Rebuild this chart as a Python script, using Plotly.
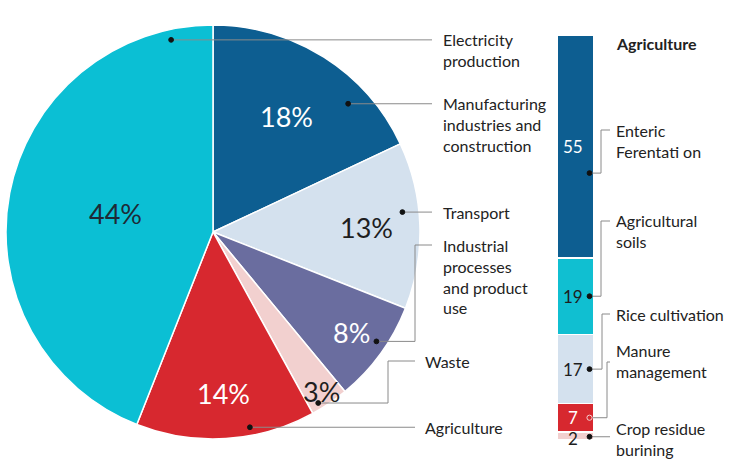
import math
import plotly.graph_objects as go

W, H = 731, 463

# ---------------- data ----------------
pie_labels = ["Manufacturing industries and construction", "Transport",
              "Industrial processes and product use", "Waste", "Agriculture",
              "Electricity production"]
pie_values = [18, 13, 8, 3, 14, 44]
pie_colors = ["#0d5e91", "#d4e1ee", "#6a6d9f", "#f2d0cf", "#d7282f", "#0bbfd4"]
pie_text_colors = ["#ffffff", "#1e1e1e", "#ffffff", "#1e1e1e", "#ffffff", "#1e2a36"]
pie_label_text = ["Manufacturing<br>industries and<br>construction", "Transport",
                  "Industrial<br>processes<br>and product<br>use", "Waste", "Agriculture",
                  "Electricity<br>production"]

agri_labels = ["Enteric Ferentati on", "Agricultural soils", "Rice cultivation",
               "Manure management", "Crop residue burining"]
agri_values = [55, 19, 17, 7, 2]
agri_colors = ["#0d5e91", "#10bfd1", "#d4e1ee", "#d7282f", "#f2d0cf"]
agri_text_colors = ["#ffffff", "#1e1e1e", "#1e1e1e", "#ffffff", "#1e1e1e"]
agri_label_text = ["Enteric<br>Ferentati on", "Agricultural<br>soils", "Rice cultivation",
                   "Manure<br>management", "Crop residue<br>burining"]

# ---------------- layout constants ----------------
CX, CY, R = 213, 232, 207           # pie centre / radius (px)
pct_rad = [0.66, 0.74, 0.83, 0.93, 0.78, 0.48]   # radial position of % labels
dot_polar = [(46.5, 0.90), (84, 0.92), (123.8, 0.95), (148.4, 0.97), (169.3, 0.96), (-12.3, 0.95)]
# (bend x, label y, end x, label x)
pie_leaders = [(None, None, 432, 441), (None, None, 432, 441), (415, 245, 432, 441),
               (388, 361, 415, 423), (None, None, 415, 423), (None, None, 432, 441)]

BX0, BX1, BY0, BY1 = 557, 594, 35, 440   # bar box (px)
dot_frac = [0.62, 0.5, 0.5, 0.5, 0.6]
bar_leaders = [(601, 130), (601, 221), (602, 314), (607, 362), (None, None)]
BAR_LABEL_X = 614
bar_label_y = [130, 221, 314, 350, 428]

FONT = "Lato"
LINE = "#8a8a8a"
DARK = "#222222"
LABEL_SIZE = 16


def px(x):
    return x / W


def py(y):
    return 1 - y / H


fig = go.Figure()

fig.add_trace(go.Pie(
    labels=pie_labels, values=pie_values, sort=False, direction="clockwise",
    rotation=0, textinfo="none", hoverinfo="label+percent",
    marker=dict(colors=pie_colors, line=dict(color="white", width=1.5)),
    domain=dict(x=[px(CX - R), px(CX + R)], y=[py(CY + R), py(CY - R)]),
    showlegend=False,
))

# stacked bar
for lab, v, c in zip(agri_labels, agri_values, agri_colors):
    fig.add_trace(go.Bar(
        x=[0], y=[v], name=lab, marker=dict(color=c, line=dict(color="white", width=1.5)),
        width=1, xaxis="x2", yaxis="y2", showlegend=False, hoverinfo="name+y",
    ))

total_bar = sum(agri_values)
fig.update_layout(
    width=W, height=H, margin=dict(l=0, r=0, t=0, b=0),
    paper_bgcolor="white", plot_bgcolor="white", barmode="stack",
    xaxis2=dict(domain=[px(BX0), px(BX1)], range=[-0.5, 0.5], visible=False, fixedrange=True),
    yaxis2=dict(domain=[py(BY1), py(BY0)], range=[total_bar, 0], visible=False, fixedrange=True),
    font=dict(family=FONT, color=DARK),
)

shapes, annots = [], []


def seg(x0, y0, x1, y1):
    shapes.append(dict(type="line", xref="paper", yref="paper", x0=px(x0), y0=py(y0),
                       x1=px(x1), y1=py(y1), line=dict(color=LINE, width=1)))


def dot(x, y, r=2.4, fill="#111111", edge="#111111"):
    shapes.append(dict(type="circle", xref="paper", yref="paper", x0=px(x - r), x1=px(x + r),
                       y0=py(y + r), y1=py(y - r), fillcolor=fill, line=dict(color=edge, width=1)))


def label(x, y, text, size=LABEL_SIZE, bold=False):
    annots.append(dict(x=px(x), y=py(y - 11.5), xref="paper", yref="paper", text=text,
                       showarrow=False, xanchor="left", yanchor="top", align="left",
                       font=dict(family=FONT, size=size, color=DARK,
                                 weight="bold" if bold else "normal")))


def centred(x, y, text, size, color, weight="normal"):
    annots.append(dict(x=px(x), y=py(y), xref="paper", yref="paper", text=text,
                       showarrow=False, xanchor="center", yanchor="middle",
                       font=dict(family=FONT, size=size, color=color, weight=weight)))


# pie percentages + leaders
total = sum(pie_values)
cum = 0
for i, v in enumerate(pie_values):
    mid = (cum + v / 2) / total * 360
    cum += v
    a = math.radians(mid)
    tx = CX + R * pct_rad[i] * math.sin(a)
    ty = CY - R * pct_rad[i] * math.cos(a)
    centred(tx, ty, f"{v / total * 100:.0f}%", 27, pie_text_colors[i])
    ang, rf = dot_polar[i]
    b = math.radians(ang)
    dx = CX + R * rf * math.sin(b)
    dy = CY - R * rf * math.cos(b)
    bend, ly, ex, lx = pie_leaders[i]
    if bend is None:
        seg(dx, dy, ex, dy)
        ly = dy
    else:
        seg(dx, dy, bend, dy)
        seg(bend, dy, bend, ly)
        seg(bend, ly, ex, ly)
    dot(dx, dy)
    label(lx, ly, pie_label_text[i])

# bar values + leaders
scale = (BY1 - BY0) / total_bar
bcx = (BX0 + BX1) / 2
top = 0
for i, v in enumerate(agri_values):
    ymid = BY0 + (top + v / 2) * scale
    ydot = BY0 + (top + v * dot_frac[i]) * scale
    if i == len(agri_values) - 1:
        ymid += 3
    top += v
    centred(bcx - 3, ymid, str(v), 17, agri_text_colors[i])
    xd = bcx + 14
    bend, ly = bar_leaders[i]
    if bend is None:
        seg(xd, ydot, BAR_LABEL_X - 4, ydot)
    else:
        seg(xd, ydot, bend, ydot)
        seg(bend, ydot, bend, ly)
        seg(bend, ly, BAR_LABEL_X - 4, ly)
    if i == 3:
        dot(xd, ydot, r=2.6, fill="#d7282f", edge="#f5d0d0")
    else:
        dot(xd, ydot)
    label(BAR_LABEL_X, bar_label_y[i], agri_label_text[i])

label(BAR_LABEL_X, 43, "Agriculture", bold=True)

fig.update_layout(shapes=shapes, annotations=annots)
fig.write_html("out.html", config={"displayModeBar": False},
               post_script="document.body.style.margin='0';document.body.style.padding='0';")
